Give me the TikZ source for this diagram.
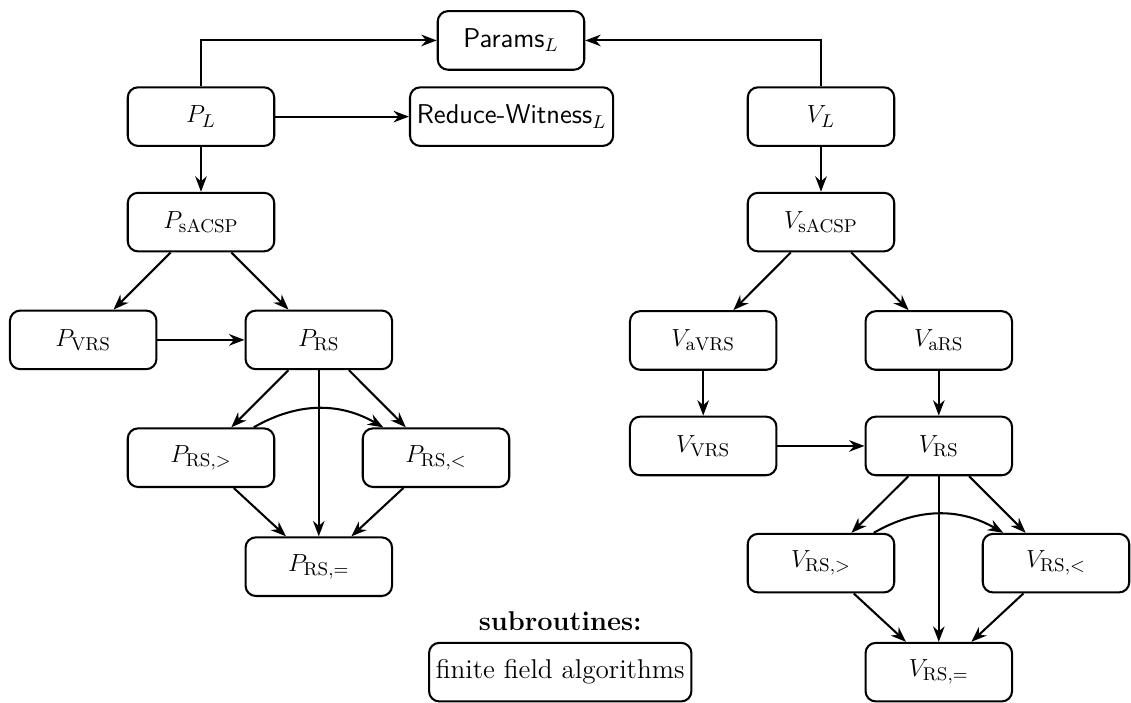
\documentclass[tikz,border=0pt]{standalone}
\usepackage{amsfonts,amssymb,amsmath}
\usepackage{xcolor}
\usepackage{tikz}
\usetikzlibrary{arrows.meta,shapes}

\begin{document}
\begin{tikzpicture}[>=Stealth,
  box/.style={draw,line width=1pt,rounded corners=5pt,minimum width=2.5cm,minimum height=1cm,font=\fontsize{13.2}{16}\selectfont},
  conn/.style={->,line width=1pt}]
\useasboundingbox (0,0) rectangle (19.30,-11.98);
% top level
\node[box](params) at (8.72,-0.69){\textsf{Params}$_L$};
\node[box](pl) at (3.43,-1.99){$P_L$};
\node[box](reduce) at (8.73,-1.99){\textsf{Reduce-Witness}$_L$};
\node[box](vl) at (14.01,-1.99){$V_L$};
% prover side
\node[box](psacsp) at (3.43,-3.79){$P_{\mathrm{sACSP}}$};
\node[box](pvrs) at (1.42,-5.80){$P_{\mathrm{VRS}}$};
\node[box](prs) at (5.44,-5.80){$P_{\mathrm{RS}}$};
\node[box](prsgt) at (3.43,-7.81){$P_{\mathrm{RS},>}$};
\node[box](prslt) at (7.44,-7.81){$P_{\mathrm{RS},<}$};
\node[box](prseq) at (5.44,-9.67){$P_{\mathrm{RS},=}$};
% verifier side
\node[box](vsacsp) at (14.01,-3.79){$V_{\mathrm{sACSP}}$};
\node[box](vavrs) at (12.0,-5.81){$V_{\mathrm{aVRS}}$};
\node[box](vars) at (16.02,-5.81){$V_{\mathrm{aRS}}$};
\node[box](vvrs) at (12.0,-7.61){$V_{\mathrm{VRS}}$};
\node[box](vrs) at (16.02,-7.61){$V_{\mathrm{RS}}$};
\node[box](vrsgt) at (14.01,-9.61){$V_{\mathrm{RS},>}$};
\node[box](vrslt) at (18.02,-9.61){$V_{\mathrm{RS},<}$};
\node[box](vrseq) at (16.02,-11.47){$V_{\mathrm{RS},=}$};
% subroutines
\node[font=\fontsize{13.2}{16}\selectfont](subtitle) at (9.56,-10.60){\textbf{subroutines:}};
\node[box,minimum width=0pt](ffa) at (9.56,-11.47){finite field algorithms};

\draw[conn](pl.north)|-(params.west);
\draw[conn](vl.north)|-(params.east);
\draw[conn](pl)--(reduce);
\draw[conn](pl)--(psacsp);
\draw[conn](psacsp)--(pvrs);
\draw[conn](psacsp)--(prs);
\draw[conn](pvrs)--(prs);
\draw[conn](prs)--(prsgt);
\draw[conn](prs)--(prslt);
\draw[conn](prs)--(prseq);
\draw[conn]([xshift=0.9cm]prsgt.north)to[bend left=30]([xshift=-0.9cm]prslt.north);
\draw[conn](prsgt)--(prseq);
\draw[conn](prslt)--(prseq);

\draw[conn](vl)--(vsacsp);
\draw[conn](vsacsp)--(vavrs);
\draw[conn](vsacsp)--(vars);
\draw[conn](vavrs)--(vvrs);
\draw[conn](vars)--(vrs);
\draw[conn](vvrs)--(vrs);
\draw[conn](vrs)--(vrsgt);
\draw[conn](vrs)--(vrslt);
\draw[conn](vrs)--(vrseq);
\draw[conn]([xshift=0.9cm]vrsgt.north)to[bend left=30]([xshift=-0.9cm]vrslt.north);
\draw[conn](vrsgt)--(vrseq);
\draw[conn](vrslt)--(vrseq);
\end{tikzpicture}
\end{document}
